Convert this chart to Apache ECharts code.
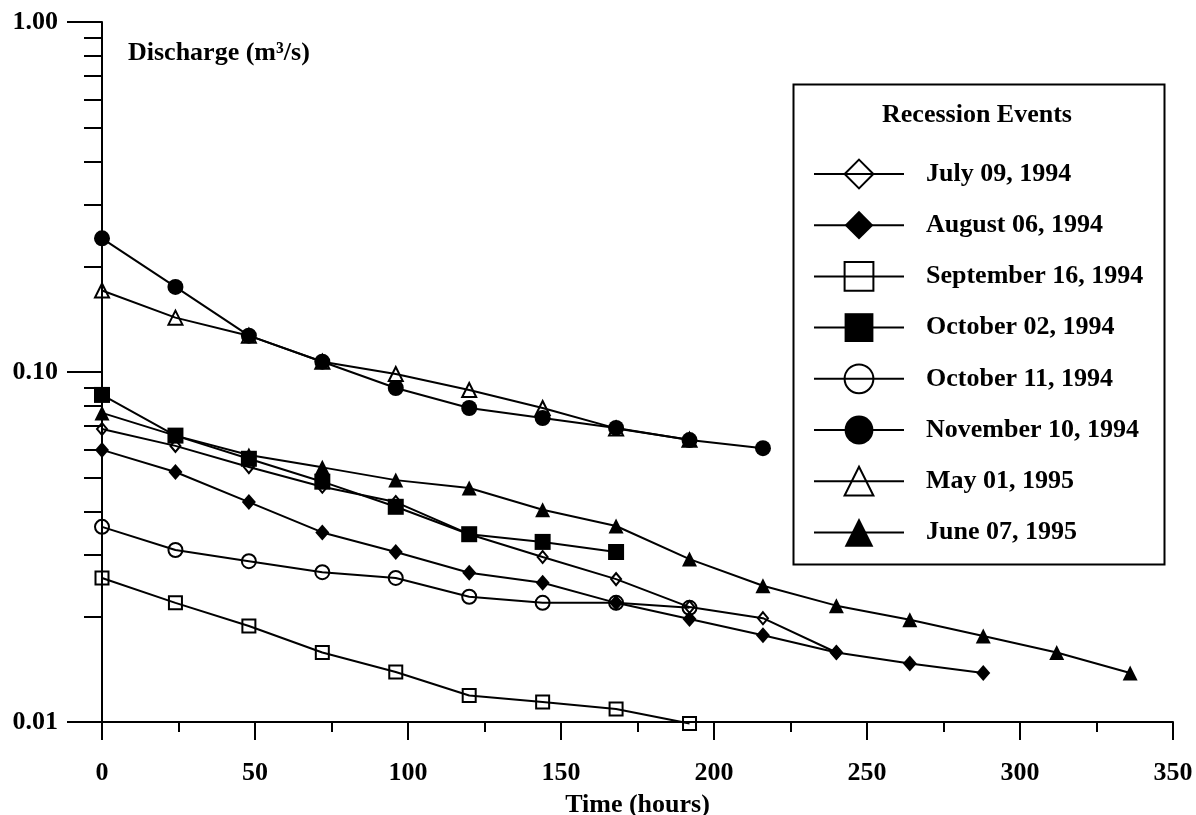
<!DOCTYPE html>
<html>
<head>
<meta charset="utf-8">
<script src="https://cdn.jsdelivr.net/npm/echarts@6/dist/echarts.min.js"></script>
<style>
  html, body { margin: 0; padding: 0; background: #fff; }
  #chart { width: 1196px; height: 815px; }
</style>
</head>
<body>
<div id="chart"></div>
<script>
// time since start of each recession (hours)
var hours = [0, 24, 48, 72, 96, 120, 144, 168, 192, 216, 240, 264, 288, 312, 336];

// discharge (m3/s)
var july09 = [0.0687, 0.0615, 0.0535, 0.047, 0.0425, 0.0344, 0.0296, 0.0256, 0.0213, 0.0198, 0.0158];
var aug06 = [0.0599, 0.0518, 0.0425, 0.0348, 0.0306, 0.0267, 0.0250, 0.0219, 0.0197, 0.0177, 0.0158, 0.0147, 0.0138];
var sep16 = [0.0258, 0.0219, 0.0188, 0.0158, 0.0139, 0.0119, 0.0114, 0.0109, 0.0099];
var oct02 = [0.0860, 0.0658, 0.0565, 0.0486, 0.0412, 0.0344, 0.0327, 0.0306];
var oct11 = [0.0361, 0.0310, 0.0288, 0.0268, 0.0258, 0.0228, 0.0219, 0.0219, 0.0212];
var nov10 = [0.241, 0.175, 0.127, 0.107, 0.090, 0.0789, 0.0739, 0.0692, 0.0639, 0.0606];
var may01 = [0.171, 0.143, 0.127, 0.107, 0.0987, 0.0888, 0.0789, 0.069, 0.064];
var jun07 = [0.0764, 0.0658, 0.0579, 0.0534, 0.0491, 0.0466, 0.0404, 0.0363, 0.0292, 0.0245, 0.0215, 0.0196, 0.0176, 0.0158, 0.0138];

var eventNames = ['July 09, 1994', 'August 06, 1994', 'September 16, 1994', 'October 02, 1994',
    'October 11, 1994', 'November 10, 1994', 'May 01, 1995', 'June 07, 1995'];
var hollow = [true, false, true, false, true, false, true, false];

var yMajor = [0.01, 0.1, 1];
var yMinor = [0.02, 0.03, 0.04, 0.05, 0.06, 0.07, 0.08, 0.09, 0.2, 0.3, 0.4, 0.5, 0.6, 0.7, 0.8, 0.9];

var font = 'Liberation Serif';

function pairs(vals) {
    var res = [];
    for (var i = 0; i < vals.length; i++) {
        res.push([hours[i], vals[i]]);
    }
    return res;
}

function makeSeries(idx, vals, symbol, size) {
    var filled = !hollow[idx];
    return {
        name: eventNames[idx],
        type: 'line',
        data: pairs(vals),
        symbol: symbol,
        symbolSize: size,
        showAllSymbol: true,
        clip: false,
        lineStyle: { color: '#000', width: 2 },
        itemStyle: {
            color: filled ? '#000' : 'rgba(255,255,255,0)',
            borderColor: '#000',
            borderWidth: filled ? 0 : 2
        },
        emphasis: { disabled: true },
        animation: false
    };
}

var legendData = eventNames.map(function (n, i) {
    var item = { name: n };
    if (hollow[i]) {
        item.itemStyle = { color: 'rgba(255,255,255,0)', borderColor: '#000', borderWidth: 2 };
    }
    return item;
});

var dom = document.getElementById('chart');
var myChart = echarts.init(dom);

var option = {
    backgroundColor: '#fff',
    animation: false,
    grid: { left: 102, right: 23, top: 22, bottom: 93, outerBoundsMode: 'none', containLabel: false },
    xAxis: {
        type: 'value',
        min: 0,
        max: 350,
        interval: 50,
        name: 'Time (hours)',
        nameLocation: 'middle',
        nameGap: 70,
        nameTextStyle: { fontFamily: font, fontSize: 26, fontWeight: 'bold', color: '#000' },
        axisLine: { lineStyle: { color: '#000', width: 2 } },
        axisTick: { length: 18, lineStyle: { color: '#000', width: 2 } },
        minorTick: { show: true, splitNumber: 2, length: 10, lineStyle: { color: '#000', width: 2 } },
        splitLine: { show: false },
        axisLabel: { margin: 38, fontFamily: font, fontSize: 26, fontWeight: 'bold', color: '#000' }
    },
    yAxis: [{
        type: 'log',
        logBase: 10,
        min: 0.01,
        max: 1,
        axisLine: { show: true, lineStyle: { color: '#000', width: 2 } },
        axisTick: { show: true, length: 35, customValues: yMajor, lineStyle: { color: '#000', width: 2 } },
        splitLine: { show: false },
        axisLabel: {
            margin: 44,
            customValues: yMajor,
            fontFamily: font, fontSize: 26, fontWeight: 'bold', color: '#000',
            formatter: function (v) { return v.toFixed(2); }
        }
    }, {
        type: 'log',
        logBase: 10,
        min: 0.01,
        max: 1,
        position: 'left',
        axisLine: { show: false },
        axisTick: { show: true, length: 18, customValues: yMinor, lineStyle: { color: '#000', width: 2 } },
        splitLine: { show: false },
        axisLabel: { show: false }
    }],
    legend: {
        orient: 'vertical',
        left: 808,
        top: 151,
        itemWidth: 90,
        itemHeight: 36,
        itemGap: 15.2,
        selectedMode: false,
        data: legendData,
        textStyle: {
            fontFamily: font, fontSize: 26, fontWeight: 'bold', color: '#000',
            lineHeight: 36, padding: [0, 0, 0, 17]
        }
    },
    graphic: [{
        type: 'rect',
        left: 791,
        top: 82,
        shape: { width: 371, height: 480 },
        style: { fill: 'none', stroke: '#000', lineWidth: 2 },
        z: 100
    }, {
        type: 'text',
        style: {
            text: 'Recession Events',
            x: 977, y: 115,
            align: 'center', verticalAlign: 'middle',
            font: 'bold 26px "Liberation Serif"', fill: '#000'
        }
    }, {
        type: 'text',
        style: {
            text: 'Discharge (m\u00b3/s)',
            x: 128, y: 53,
            align: 'left', verticalAlign: 'middle',
            font: 'bold 26px "Liberation Serif"', fill: '#000'
        }
    }],
    series: [
        makeSeries(0, july09, 'diamond', [10, 12]),
        makeSeries(1, aug06, 'diamond', [14, 16]),
        makeSeries(2, sep16, 'rect', 13),
        makeSeries(3, oct02, 'rect', 16),
        makeSeries(4, oct11, 'circle', 14),
        makeSeries(5, nov10, 'circle', 16),
        makeSeries(6, may01, 'triangle', 14),
        makeSeries(7, jun07, 'triangle', 15)
    ]
};

if (option && typeof option === 'object') {
    myChart.setOption(option, true);
}
</script>
</body>
</html>
